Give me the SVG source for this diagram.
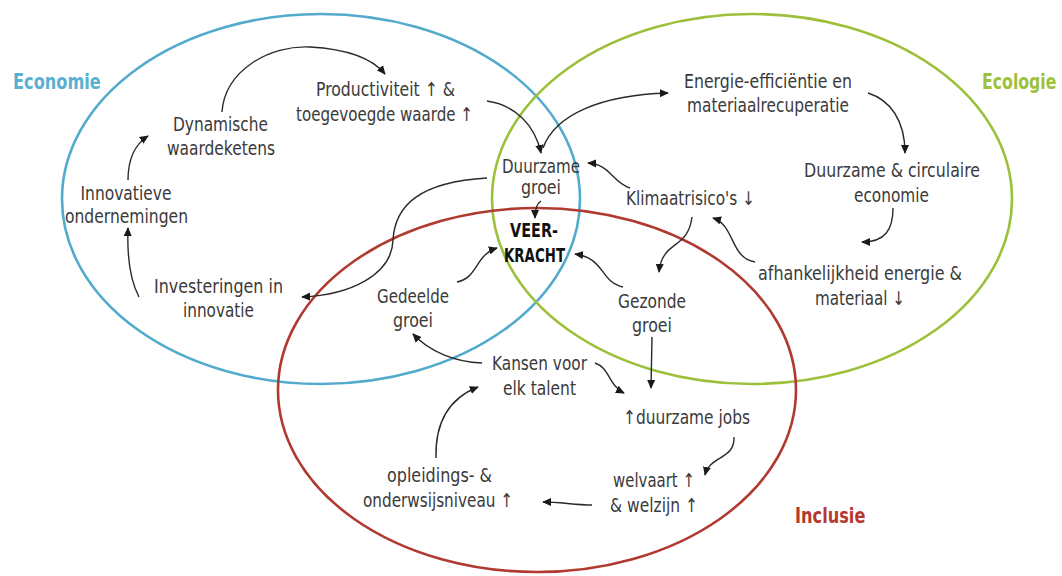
<svg xmlns="http://www.w3.org/2000/svg" width="1062" height="576" viewBox="0 0 1062 576">
<style>
.bg{fill:#fff}
.circ{fill:none;stroke-width:2.6}
.eco{stroke:#52abcd}
.ecol{stroke:#9cc03a}
.inc{stroke:#b03a30}
text{font-family:"DejaVu Sans Condensed","Liberation Sans",sans-serif;font-size:19px;fill:#3a3a3a;text-anchor:middle}
.title{font-size:17.5px;font-weight:bold;text-anchor:start}
.veer{font-weight:bold;fill:#111}
.conn path{fill:none;stroke:#2a2a2a;stroke-width:1.4;marker-end:url(#ah)}
</style>
<defs>
<marker id="ah" viewBox="0 0 10 10" refX="9" refY="5" markerWidth="9" markerHeight="9" markerUnits="userSpaceOnUse" orient="auto">
<path d="M0,0.5 L10,5 L0,9.5 z" fill="#1a1a1a"/>
</marker>
</defs>
<rect class="bg" x="0" y="0" width="1062" height="576"/>
<g id="circles">
<ellipse id="c-economie" class="circ eco" cx="321" cy="199" rx="259" ry="185"/>
<ellipse id="c-ecologie" class="circ ecol" cx="752" cy="199" rx="260" ry="185"/>
<ellipse id="c-inclusie" class="circ inc" cx="537" cy="390" rx="259" ry="182"/>
</g>
<g id="titles">
<text class="title" transform="translate(13,89) scale(1,1.2)" style="fill:#5bb0cf;font-size:18px">Economie</text>
<text class="title" transform="translate(982,89) scale(1,1.2)" style="fill:#9dc13b">Ecologie</text>
<text class="title" transform="translate(795,523) scale(1,1.2)" style="fill:#b5382e;font-size:18px">Inclusie</text>
</g>
<g id="n-dynamische"><text x="220.5" y="131" textLength="95" lengthAdjust="spacingAndGlyphs">Dynamische</text><text x="221" y="155" textLength="108" lengthAdjust="spacingAndGlyphs">waardeketens</text></g>
<g id="n-innovatieve"><text x="126" y="200" textLength="91" lengthAdjust="spacingAndGlyphs">Innovatieve</text><text x="126.5" y="223" textLength="123" lengthAdjust="spacingAndGlyphs">ondernemingen</text></g>
<g id="n-investeringen"><text x="218.5" y="293" textLength="129" lengthAdjust="spacingAndGlyphs">Investeringen in</text><text x="218.5" y="317" textLength="71" lengthAdjust="spacingAndGlyphs">innovatie</text></g>
<g id="n-productiviteit"><text x="385.5" y="96" textLength="139" lengthAdjust="spacingAndGlyphs">Productiviteit ↑ &amp;</text><text x="384.5" y="121" textLength="177" lengthAdjust="spacingAndGlyphs">toegevoegde waarde ↑</text></g>
<g id="n-duurzame-groei"><text x="541" y="173" textLength="78" lengthAdjust="spacingAndGlyphs">Duurzame</text><text x="541" y="194" textLength="40" lengthAdjust="spacingAndGlyphs">groei</text></g>
<g id="n-veerkracht"><text class="veer" x="534" y="237" textLength="48" lengthAdjust="spacingAndGlyphs">VEER-</text><text class="veer" x="534.5" y="262" textLength="61" lengthAdjust="spacingAndGlyphs">KRACHT</text></g>
<g id="n-gedeelde"><text x="413" y="303" textLength="72" lengthAdjust="spacingAndGlyphs">Gedeelde</text><text x="413" y="327" textLength="40" lengthAdjust="spacingAndGlyphs">groei</text></g>
<g id="n-gezonde"><text x="652" y="308" textLength="68" lengthAdjust="spacingAndGlyphs">Gezonde</text><text x="652" y="332" textLength="40" lengthAdjust="spacingAndGlyphs">groei</text></g>
<g id="n-klimaat"><text x="690.5" y="205" textLength="129" lengthAdjust="spacingAndGlyphs">Klimaatrisico's ↓</text></g>
<g id="n-energie"><text x="768" y="88" textLength="168" lengthAdjust="spacingAndGlyphs">Energie-efficiëntie en</text><text x="768" y="112" textLength="162" lengthAdjust="spacingAndGlyphs">materiaalrecuperatie</text></g>
<g id="n-circulair"><text x="892" y="177" textLength="176" lengthAdjust="spacingAndGlyphs">Duurzame &amp; circulaire</text><text x="891.5" y="202" textLength="75" lengthAdjust="spacingAndGlyphs">economie</text></g>
<g id="n-afhankelijkheid"><text x="860" y="280" textLength="204" lengthAdjust="spacingAndGlyphs">afhankelijkheid energie &amp;</text><text x="860" y="305" textLength="90" lengthAdjust="spacingAndGlyphs">materiaal ↓</text></g>
<g id="n-kansen"><text x="539.5" y="370" textLength="95" lengthAdjust="spacingAndGlyphs">Kansen voor</text><text x="539.5" y="395" textLength="73" lengthAdjust="spacingAndGlyphs">elk talent</text></g>
<g id="n-jobs"><text x="686.5" y="424" textLength="127" lengthAdjust="spacingAndGlyphs">↑duurzame jobs</text></g>
<g id="n-opleidings"><text x="439.5" y="482" textLength="105" lengthAdjust="spacingAndGlyphs">opleidings- &amp;</text><text x="438" y="507" textLength="150" lengthAdjust="spacingAndGlyphs">onderwsijsniveau ↑</text></g>
<g id="n-welvaart"><text x="654" y="487" textLength="82" lengthAdjust="spacingAndGlyphs">welvaart ↑</text><text x="654" y="512" textLength="88" lengthAdjust="spacingAndGlyphs">&amp; welzijn ↑</text></g>
<g id="connectors" class="conn">
<path d="M222,112 C225,70 270,45 310,47 C345,49 372,58 385,74"/>
<path d="M128,180 C128,160 134,145 148,136"/>
<path d="M139,297 C130,280 127,255 128,228"/>
<path d="M487,178 C420,182 395,205 393,240 C392,275 350,295 302,297"/>
<path d="M487,101 C515,105 535,125 541,153"/>
<path d="M543,148 C555,115 600,95 668,93"/>
<path d="M630,188 C612,182 610,164 588,163"/>
<path d="M541,201 C536,204 535,210 535,218"/>
<path d="M457,282 C478,278 475,255 497,248"/>
<path d="M623,287 C600,282 605,258 575,254"/>
<path d="M692,217 C688,250 662,240 659,272"/>
<path d="M755,262 C730,258 735,225 713,218"/>
<path d="M868,93 C890,100 905,120 905,153"/>
<path d="M893,208 C893,230 885,242 862,242"/>
<path d="M652,337 L651,388"/>
<path d="M482,363 C455,362 430,352 413,334"/>
<path d="M595,363 C610,368 608,385 624,393"/>
<path d="M734,437 C735,460 710,455 705,475"/>
<path d="M592,505 C575,505 560,502 543,502"/>
<path d="M436,458 C435,420 450,398 478,387"/>
</g>
</svg>
